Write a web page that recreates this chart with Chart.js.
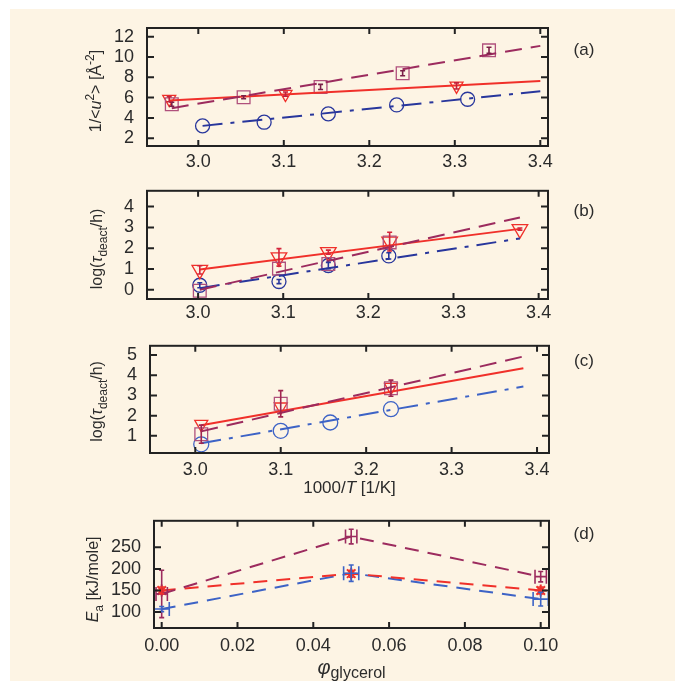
<!DOCTYPE html>
<html>
<head>
<meta charset="utf-8">
<script src="https://cdn.jsdelivr.net/npm/chart.js@4.4.1/dist/chart.umd.min.js"></script>
<style>
  html, body { margin: 0; padding: 0; background: #fff; }
  #wrap { position: relative; width: 675px; height: 681px; overflow: hidden; }
  #bg { position: absolute; left: 10px; top: 9px; right: 0; bottom: 0; background: #fdf4e4; }
  .pane { position: absolute; left: 0; width: 675px; }
</style>
</head>
<body>
<div id="wrap">
  <div id="bg"></div>
  <div class="pane" style="top:0;height:175px"><canvas id="ca"></canvas></div>
  <div class="pane" style="top:175px;height:160px"><canvas id="cb"></canvas></div>
  <div class="pane" style="top:330px;height:175px"><canvas id="cc"></canvas></div>
  <div class="pane" style="top:505px;height:176px"><canvas id="cd"></canvas></div>
</div>
<script>
const FONT = "'Liberation Sans', Arial, sans-serif";
const TXT = '#2b2b2b';
const MAROON = '#9c2b5e';
const RED = '#f0302a';
const BLUE = '#28369c';
const LBLUE = '#3d63c6';

// ---- panel (a): 1/<u2> vs 1000/T
const aTicksX = [3.0, 3.1, 3.2, 3.3, 3.4];
const aTicksY = [2, 4, 6, 8, 10, 12];
const aSqX = [2.969, 3.053, 3.143, 3.239, 3.340];
const aSqY = [5.35, 6.04, 7.05, 8.40, 10.65];
const aSqErr = [0.2, 0.15, 0.25, 0.25, 0.3];
const aTriX = [2.966, 3.102, 3.302];
const aTriY = [5.85, 6.35, 7.15];
const aTriErr = [0.25, 0.2, 0.3];
const aCirX = [3.005, 3.077, 3.152, 3.232, 3.315];
const aCirY = [3.22, 3.58, 4.40, 5.28, 5.84];
const aFitSqX = [2.969, 3.4], aFitSqY = [4.96, 11.09];
const aFitTriX = [2.966, 3.4], aFitTriY = [5.71, 7.64];
const aFitCirX = [3.005, 3.4], aFitCirY = [3.22, 6.63];

// ---- panel (b): log(tau_deact/h)
const bTicksX = [3.0, 3.1, 3.2, 3.3, 3.4];
const bTicksY = [0, 1, 2, 3, 4];
const bTriX = [3.002, 3.095, 3.153, 3.225, 3.378];
const bTriY = [0.96, 1.56, 1.81, 2.32, 2.92];
const bTriErr = [0.2, 0.42, 0.1, 0.45, 0.05];
const bSqX = [3.002, 3.095, 3.153, 3.225];
const bSqY = [-0.04, 1.02, 1.24, 2.28];
const bCirX = [3.002, 3.095, 3.153, 3.224];
const bCirY = [0.22, 0.40, 1.17, 1.63];
const bCirErr = [0.12, 0.1, 0.15, 0.15];
const bFitTriX = [3.002, 3.378], bFitTriY = [0.98, 2.93];
const bFitSqX = [3.002, 3.378], bFitSqY = [0.0, 3.48];
const bFitCirX = [3.002, 3.378], bFitCirY = [0.08, 2.47];

// ---- panel (c): log(tau_deact/h)
const cTicksX = [3.0, 3.1, 3.2, 3.3, 3.4];
const cTicksY = [1, 2, 3, 4, 5];
const cTriX = [3.007, 3.100, 3.229];
const cTriY = [1.58, 2.44, 3.41];
const cSqX = [3.007, 3.100, 3.229];
const cSqY = [1.08, 2.59, 3.36];
const cSqErr = [0.45, 0.65, 0.4];
const cCirX = [3.007, 3.100, 3.158, 3.229];
const cCirY = [0.58, 1.25, 1.66, 2.32];
const cFitTriX = [3.007, 3.384], cFitTriY = [1.52, 4.35];
const cFitSqX = [3.007, 3.384], cFitSqY = [1.22, 4.93];
const cFitCirX = [3.007, 3.384], cFitCirY = [0.63, 3.44];

// ---- panel (d): Ea vs phi_glycerol
const dTicksX = [0.00, 0.02, 0.04, 0.06, 0.08, 0.10];
const dTicksY = [100, 150, 200, 250];
const dPhi = [0.0, 0.05, 0.10];
const dMaroon = [142, 275, 182];
const dMaroonErr = [55, 17, 12];
const dRed = [150, 189, 150];
const dRedErr = [8, 8, 8];
const dBlue = [107, 190, 130];
const dBlueErr = [6, 19, 16];
const dBlueErrX = [0.002, 0.002, 0.002];

const pts = (xs, ys) => xs.map((x, i) => ({ x: x, y: ys[i] }));

function richText(ctx, segs, cx, cy, size, rot) {
  ctx.save();
  ctx.translate(cx, cy);
  if (rot) ctx.rotate(rot);
  const fontOf = s => (s.it ? 'italic ' : '') + Math.round(size * (s.sub || s.sup ? 0.72 : 1) * (s.scale || 1)) + 'px ' + FONT;
  let w = 0;
  segs.forEach(s => { ctx.font = fontOf(s); s._w = ctx.measureText(s.t).width; w += s._w; });
  let xx = -w / 2;
  ctx.textBaseline = 'middle';
  ctx.textAlign = 'left';
  ctx.fillStyle = TXT;
  segs.forEach(s => {
    ctx.font = fontOf(s);
    const dy = s.sub ? size * 0.33 : (s.sup ? -size * 0.38 : 0);
    ctx.fillText(s.t, xx, dy);
    xx += s._w;
  });
  ctx.restore();
}

// frame, inward ticks, error bars, axis titles, panel letter
const extras = {
  id: 'extras',
  afterDatasetsDraw(chart) {
    const { ctx, chartArea: ca, scales } = chart;
    const xs = scales.x, ys = scales.y;
    const o = chart.options.plugins.extras;

    chart.data.datasets.forEach((ds, i) => {
      if (!ds.errY && !ds.errX) return;
      const meta = chart.getDatasetMeta(i);
      ctx.save();
      ctx.strokeStyle = ds.errColor || ds.borderColor;
      ctx.lineWidth = 1.6;
      ctx.setLineDash([]);
      meta.data.forEach((p, j) => {
        const d = ds.data[j];
        ctx.beginPath();
        if (ds.errY) {
          const y1 = ys.getPixelForValue(d.y + ds.errY[j]);
          const y2 = ys.getPixelForValue(d.y - ds.errY[j]);
          ctx.moveTo(p.x, y1); ctx.lineTo(p.x, y2);
          ctx.moveTo(p.x - 2.5, y1); ctx.lineTo(p.x + 2.5, y1);
          ctx.moveTo(p.x - 2.5, y2); ctx.lineTo(p.x + 2.5, y2);
        }
        if (ds.errX) {
          const x1 = xs.getPixelForValue(d.x - ds.errX[j]);
          const x2 = xs.getPixelForValue(d.x + ds.errX[j]);
          ctx.moveTo(x1, p.y); ctx.lineTo(x2, p.y);
          ctx.moveTo(x1, p.y - 7); ctx.lineTo(x1, p.y + 7);
          ctx.moveTo(x2, p.y - 7); ctx.lineTo(x2, p.y + 7);
        }
        ctx.stroke();
      });
      ctx.restore();
    });

    ctx.save();
    ctx.strokeStyle = '#222';
    ctx.lineWidth = 2;
    ctx.setLineDash([]);
    ctx.strokeRect(ca.left, ca.top, ca.right - ca.left, ca.bottom - ca.top);
    ctx.beginPath();
    xs.ticks.forEach(t => {
      const px = xs.getPixelForValue(t.value);
      ctx.moveTo(px, ca.bottom); ctx.lineTo(px, ca.bottom - 6);
      ctx.moveTo(px, ca.top); ctx.lineTo(px, ca.top + 6);
    });
    ys.ticks.forEach(t => {
      const py = ys.getPixelForValue(t.value);
      ctx.moveTo(ca.left, py); ctx.lineTo(ca.left + 7, py);
      ctx.moveTo(ca.right, py); ctx.lineTo(ca.right - 7, py);
    });
    ctx.stroke();
    ctx.restore();

    const midY = (ca.top + ca.bottom) / 2;
    richText(ctx, o.yTitle, ca.left - o.yTitleOff, midY + (o.yTitleShift || 0), 16, -Math.PI / 2);
    if (o.xTitle) richText(ctx, o.xTitle, (ca.left + ca.right) / 2, ca.bottom + o.xTitleOff, 17, 0);
    ctx.save();
    ctx.font = '17px ' + FONT;
    ctx.fillStyle = TXT;
    ctx.textAlign = 'center';
    ctx.textBaseline = 'middle';
    ctx.fillText(o.label, 584, o.labelY);
    ctx.restore();
  }
};

function makeChart(id, p) {
  new Chart(document.getElementById(id), {
    type: 'scatter',
    data: { datasets: p.datasets },
    options: {
      responsive: true,
      maintainAspectRatio: false,
      animation: false,
      layout: { padding: { top: p.padTop, right: p.padRight, left: 0, bottom: 0 } },
      plugins: {
        legend: { display: false },
        tooltip: { enabled: false },
        extras: p.extras
      },
      scales: {
        x: {
          type: 'linear', min: p.xMin, max: p.xMax,
          grid: { display: false }, border: { display: false },
          afterBuildTicks: s => { s.ticks = p.xTicks.map(v => ({ value: v })); },
          afterFit: s => { s.height = p.xAxisH; },
          ticks: {
            padding: p.xPad, color: TXT, font: { family: FONT, size: 18 },
            maxRotation: 0, autoSkip: false,
            callback: v => v.toFixed(p.xDec)
          }
        },
        y: {
          type: 'linear', min: p.yMin, max: p.yMax,
          grid: { display: false }, border: { display: false },
          afterBuildTicks: s => { s.ticks = p.yTicks.map(v => ({ value: v })); },
          afterFit: s => { s.width = p.yAxisW; },
          ticks: {
            padding: 5, color: TXT, font: { family: FONT, size: 18 },
            autoSkip: false,
            callback: v => String(v)
          }
        }
      }
    },
    plugins: [extras]
  });
}

function marks(data, style, color, extra) {
  return Object.assign({
    data: data, showLine: false, pointStyle: style,
    pointRadius: 7.5, pointHoverRadius: 7.5,
    borderColor: color, backgroundColor: 'transparent',
    pointBorderWidth: 1.3
  }, extra || {});
}
function fit(data, color, dash) {
  return {
    data: data, showLine: true, pointRadius: 0, pointHoverRadius: 0,
    borderColor: color, borderWidth: 2, borderDash: dash, fill: false
  };
}

const tauTitle = [{ t: 'log(' }, { t: 'τ', it: true }, { t: 'deact', sub: true }, { t: '/h)' }];

makeChart('ca', {
  xMin: 2.940, xMax: 3.409, yMin: 1.24, yMax: 12.85,
  xTicks: aTicksX, yTicks: aTicksY, xDec: 1, xPad: -3,
  padTop: 28, padRight: 127, yAxisW: 147, xAxisH: 29,
  datasets: [
    fit(pts(aFitSqX, aFitSqY), MAROON, [17, 9]),
    fit(pts(aFitTriX, aFitTriY), RED, []),
    fit(pts(aFitCirX, aFitCirY), BLUE, [20, 8, 4, 8]),
    marks(pts(aSqX, aSqY), 'rect', '#b0507c', { pointRadius: 9, errY: aSqErr, errColor: '#7a1f48' }),
    marks(pts(aTriX, aTriY), 'triangle', RED, { rotation: 180, errY: aTriErr, errColor: '#c4203a' }),
    marks(pts(aCirX, aCirY), 'circle', BLUE, { pointRadius: 7 })
  ],
  extras: {
    yTitle: [{ t: '1/<' }, { t: 'u', it: true }, { t: '2', sup: true }, { t: '> [Å' }, { t: '-2', sup: true }, { t: ']' }],
    yTitleOff: 50, yTitleShift: 4, label: '(a)', labelY: 50
  }
});

makeChart('cb', {
  xMin: 2.940, xMax: 3.411, yMin: -0.44, yMax: 4.76,
  xTicks: bTicksX, yTicks: bTicksY, xDec: 1, xPad: -5,
  padTop: 7, padRight: 127, yAxisW: 147, xAxisH: 36,
  datasets: [
    fit(pts(bFitSqX, bFitSqY), MAROON, [17, 9]),
    fit(pts(bFitTriX, bFitTriY), RED, []),
    fit(pts(bFitCirX, bFitCirY), BLUE, [20, 8, 4, 8]),
    marks(pts(bSqX, bSqY), 'rect', '#b0507c', { pointRadius: 9 }),
    marks(pts(bTriX, bTriY), 'triangle', RED, { pointRadius: 9, rotation: 180, errY: bTriErr, errColor: '#d4233a' }),
    marks(pts(bCirX, bCirY), 'circle', BLUE, { pointRadius: 7, errY: bCirErr })
  ],
  extras: { yTitle: tauTitle, yTitleOff: 49, yTitleShift: 4, label: '(b)', labelY: 36 }
});

makeChart('cc', {
  xMin: 2.947, xMax: 3.414, yMin: 0.15, yMax: 5.46,
  xTicks: cTicksX, yTicks: cTicksY, xDec: 1, xPad: -2,
  padTop: 4, padRight: 126, yAxisW: 150, xAxisH: 52,
  datasets: [
    fit(pts(cFitSqX, cFitSqY), MAROON, [17, 9]),
    fit(pts(cFitTriX, cFitTriY), RED, []),
    fit(pts(cFitCirX, cFitCirY), LBLUE, [20, 8, 4, 8]),
    marks(pts(cSqX, cSqY), 'rect', '#b0507c', { pointRadius: 9, errY: cSqErr, errColor: '#a0254f' }),
    marks(pts(cTriX, cTriY), 'triangle', RED, { rotation: 180 }),
    marks(pts(cCirX, cCirY), 'circle', LBLUE, { pointRadius: 7.5 })
  ],
  extras: {
    yTitle: tauTitle, yTitleOff: 52, yTitleShift: 2,
    xTitle: [{ t: '1000/' }, { t: 'T', it: true }, { t: ' [1/K]' }], xTitleOff: 35,
    label: '(c)', labelY: 31
  }
});

makeChart('cd', {
  xMin: -0.00203, xMax: 0.10219, yMin: 63, yMax: 311.5,
  xTicks: dTicksX, yTicks: dTicksY, xDec: 2, xPad: -1,
  padTop: 8, padRight: 126, yAxisW: 154, xAxisH: 53,
  datasets: [
    { data: pts(dPhi, dMaroon), showLine: true, pointRadius: 0, borderColor: MAROON, borderWidth: 2,
      borderDash: [14, 9], errY: dMaroonErr, errX: [0.0015, 0.0015, 0.0015] },
    { data: pts(dPhi, dRed), showLine: true, pointStyle: 'star', pointRadius: 6, pointBorderWidth: 2,
      borderColor: RED, borderWidth: 2, borderDash: [14, 9], errY: dRedErr },
    { data: pts(dPhi, dBlue), showLine: true, pointRadius: 0, borderColor: LBLUE, borderWidth: 2,
      borderDash: [14, 9], errY: dBlueErr, errX: dBlueErrX }
  ],
  extras: {
    yTitle: [{ t: 'E', it: true }, { t: 'a', sub: true }, { t: ' [kJ/mole]' }], yTitleOff: 60, yTitleShift: 5,
    xTitle: [{ t: 'φ', it: true, scale: 1.2 }, { t: 'glycerol', sub: true, scale: 1.3 }], xTitleOff: 40,
    label: '(d)', labelY: 29
  }
});
</script>
</body>
</html>
